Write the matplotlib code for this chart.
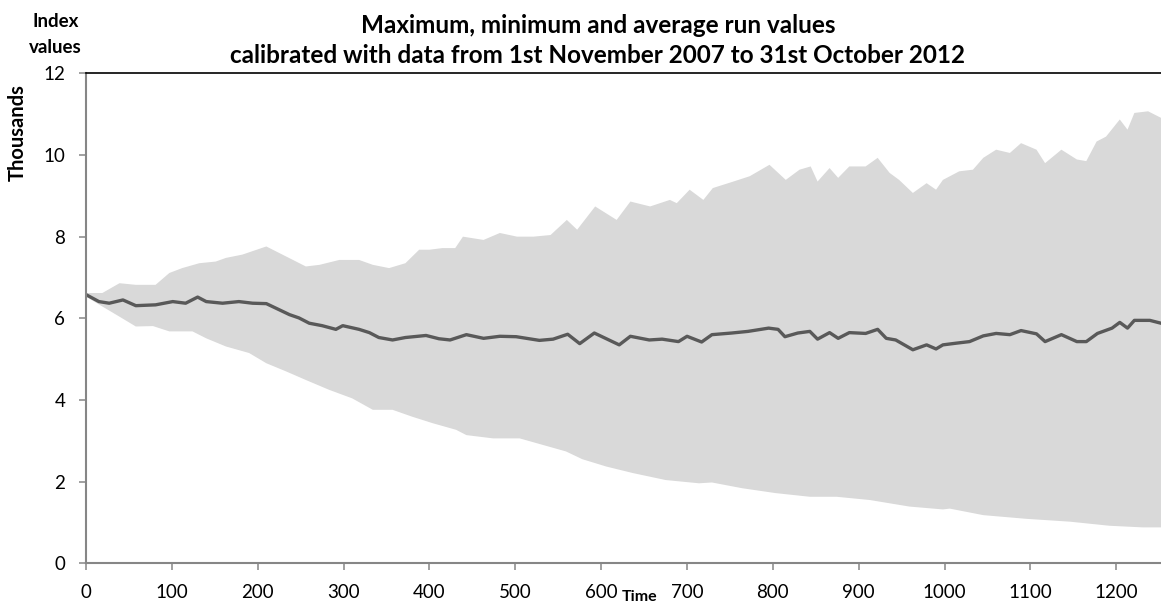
import matplotlib
matplotlib.use("Agg")
import matplotlib.pyplot as plt
import numpy as np

plt.rcParams['font.family'] = ['Lato', 'DejaVu Sans']

# values in thousands
t_max = [0, 19, 39, 58, 81, 97, 112, 132, 151, 163, 182, 210, 225, 241, 256, 272, 295, 318,
         334, 353, 372, 388, 400, 415, 430, 439, 463, 482, 502, 521, 541, 560, 572, 593,
         618, 634, 657, 680, 688, 703, 719, 730, 754, 773, 796, 815, 831, 844, 852, 866,
         876, 889, 908, 922, 936, 947, 963, 979, 990, 998, 1017, 1033, 1045, 1060, 1076,
         1089, 1107, 1117, 1136, 1154, 1165, 1177, 1188, 1204, 1213, 1221, 1237, 1252]
v_max = [6.62, 6.62, 6.86, 6.82, 6.82, 7.11, 7.23, 7.35, 7.39, 7.48, 7.56, 7.76, 7.60, 7.43,
         7.27, 7.31, 7.43, 7.43, 7.31, 7.23, 7.35, 7.68, 7.68, 7.72, 7.72, 8.00, 7.92, 8.09,
         8.00, 8.00, 8.04, 8.41, 8.17, 8.74, 8.41, 8.86, 8.74, 8.90, 8.82, 9.15, 8.90, 9.19,
         9.35, 9.48, 9.76, 9.39, 9.64, 9.72, 9.35, 9.68, 9.44, 9.72, 9.72, 9.93, 9.56, 9.39,
         9.07, 9.31, 9.15, 9.39, 9.60, 9.64, 9.93, 10.13, 10.05, 10.29, 10.13, 9.80, 10.13,
         9.89, 9.85, 10.33, 10.45, 10.87, 10.62, 11.03, 11.07, 10.91]

t_min = [0, 19, 39, 58, 78, 97, 124, 140, 163, 190, 210, 233, 256, 283, 310, 334, 357, 380,
         404, 431, 443, 474, 505, 532, 559, 578, 606, 637, 675, 714, 729, 764, 803, 843,
         874, 913, 959, 998, 1006, 1045, 1095, 1146, 1192, 1231, 1252]
v_min = [6.53, 6.29, 6.04, 5.80, 5.81, 5.68, 5.68, 5.51, 5.31, 5.15, 4.90, 4.70, 4.49, 4.25,
         4.04, 3.76, 3.76, 3.59, 3.43, 3.27, 3.14, 3.06, 3.06, 2.90, 2.74, 2.55, 2.37, 2.21,
         2.04, 1.96, 1.98, 1.84, 1.72, 1.63, 1.63, 1.55, 1.39, 1.32, 1.34, 1.18, 1.09, 1.02,
         0.92, 0.88, 0.88]

t_avg = [0, 15, 27, 43, 58, 81, 101, 116, 130, 140, 159, 178, 194, 210, 221, 237, 248, 260,
         275, 291, 299, 318, 330, 341, 357, 372, 396, 411, 424, 443, 463, 482, 501, 528,
         544, 561, 575, 592, 605, 621, 634, 656, 671, 690, 700, 717, 729, 752, 771, 795,
         806, 814, 829, 843, 852, 866, 876, 889, 908, 922, 932, 943, 963, 979, 990, 998,
         1013, 1029, 1045, 1060, 1076, 1089, 1107, 1117, 1136, 1154, 1165, 1178, 1195,
         1204, 1213, 1221, 1239, 1252]
v_avg = [6.58, 6.41, 6.37, 6.45, 6.31, 6.33, 6.41, 6.37, 6.52, 6.41, 6.37, 6.41, 6.37, 6.36,
         6.25, 6.09, 6.01, 5.88, 5.82, 5.73, 5.82, 5.73, 5.65, 5.53, 5.47, 5.53, 5.58, 5.50,
         5.47, 5.60, 5.51, 5.56, 5.55, 5.46, 5.49, 5.61, 5.38, 5.64, 5.51, 5.35, 5.56, 5.47,
         5.49, 5.43, 5.56, 5.42, 5.60, 5.64, 5.68, 5.76, 5.73, 5.55, 5.64, 5.68, 5.49, 5.65,
         5.51, 5.65, 5.63, 5.73, 5.51, 5.47, 5.23, 5.35, 5.25, 5.35, 5.39, 5.43, 5.57, 5.63,
         5.60, 5.70, 5.62, 5.43, 5.60, 5.43, 5.43, 5.63, 5.76, 5.90, 5.76, 5.95, 5.95, 5.88]

x_ticks = list(range(0, 1300, 100))
y_ticks = [0, 2, 4, 6, 8, 10, 12]

fig = plt.figure(figsize=(11.61, 6.09), dpi=100)
ax = fig.add_axes([0.0741, 0.075, 0.9259, 0.8046])

# band between min and max
band_x = np.concatenate([t_max, t_min[::-1]])
band_y = np.concatenate([v_max, v_min[::-1]])
ax.fill(band_x, band_y, color='#d9d9d9', lw=0)
ax.plot(t_avg, v_avg, color='#595959', lw=2.4, solid_joinstyle='round')

ax.set_xlim(0, 1252)
ax.set_ylim(0, 12)
ax.set_xticks(x_ticks)
ax.set_yticks(y_ticks)
ax.tick_params(axis='both', direction='out', length=5, width=1.1, color='#868686',
               labelsize=13.5)
ax.tick_params(axis='y', pad=10)
ax.tick_params(axis='x', pad=10)

for s in ['left', 'bottom']:
    ax.spines[s].set_color('#868686')
    ax.spines[s].set_linewidth(1.5)
ax.spines['top'].set_color('black')
ax.spines['top'].set_linewidth(1.2)
ax.spines['right'].set_visible(False)

fig.text(0.515, 1 - 33 / 609, 'Maximum, minimum and average run values', ha='center',
         va='baseline', fontsize=17.5, fontweight='bold')
fig.text(0.515, 1 - 63 / 609, 'calibrated with data from 1st November 2007 to 31st October 2012',
         ha='center', va='baseline', fontsize=17.5, fontweight='bold')
fig.text(0.048, 1 - 27 / 609, 'Index', ha='center', va='baseline', fontsize=13.5,
         fontweight='bold')
fig.text(0.048, 1 - 53 / 609, 'values', ha='center', va='baseline', fontsize=13.5,
         fontweight='bold')
fig.text(0.015, 0.783, 'Thousands', ha='center', va='center', rotation=90,
         fontsize=14.5, fontweight='bold')
fig.text(0.551, 0.02, 'Time', ha='center', va='center', fontsize=11.5, fontweight='bold')

fig.savefig('out.png', dpi=100)
